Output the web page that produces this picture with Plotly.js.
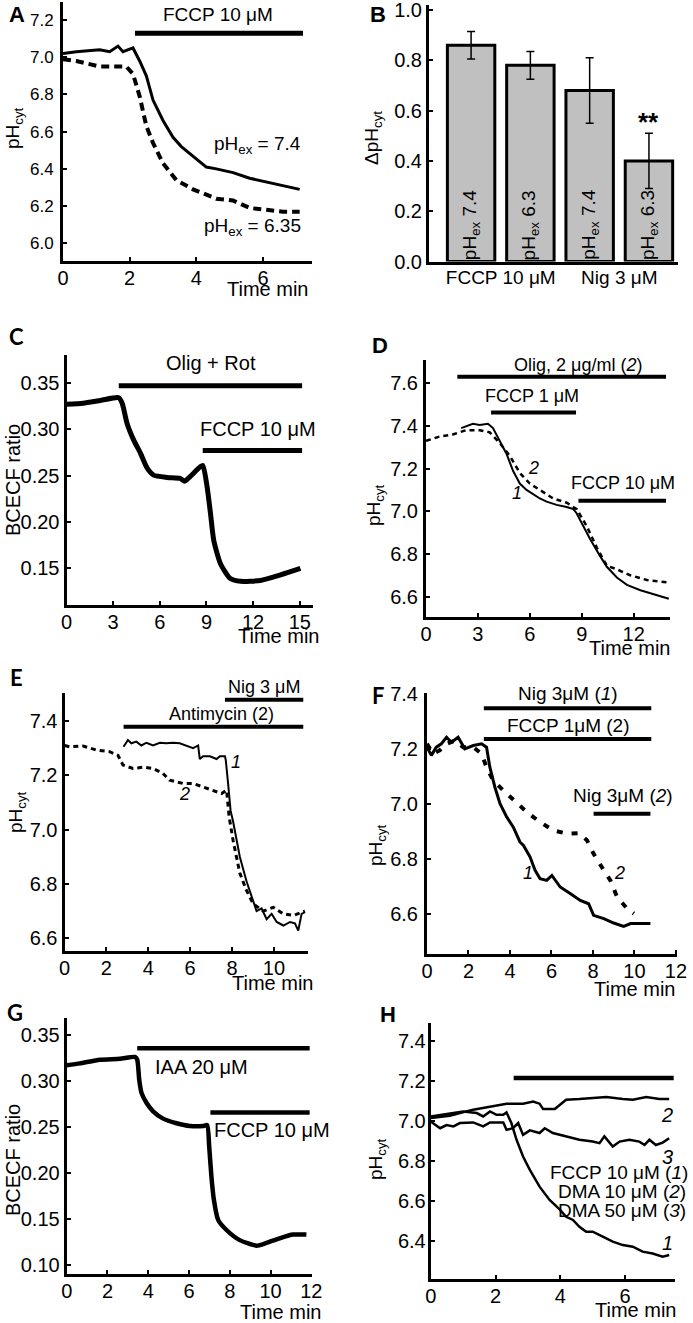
<!DOCTYPE html>
<html><head><meta charset="utf-8">
<script src="https://cdn.plot.ly/plotly-3.0.1.min.js"></script>
<style>html,body{margin:0;padding:0;background:#fff}#chart{width:693px;height:1323px}</style>
</head><body><div id="chart"></div>
<script>
// ---------- Panel A : FCCP 10 uM, pHex 7.4 vs 6.35 ----------
const aTime74 = [0,0.4,1.1,1.4,1.65,1.8,2.1,2.3,2.5,2.7,3.0,3.3,3.55,3.9,4.3,4.6,5.1,5.6,6.1,6.6,7.1];
const aPh74   = [7.02,7.03,7.04,7.03,7.06,7.03,7.05,6.98,6.90,6.77,6.66,6.57,6.52,6.47,6.41,6.40,6.38,6.35,6.33,6.31,6.29];
const aTime635 = [0,0.4,1.1,1.9,2.1,2.3,2.5,2.7,3.0,3.4,3.9,4.6,5.1,5.6,6.1,6.6,7.1];
const aPh635   = [6.99,6.98,6.95,6.95,6.91,6.79,6.63,6.54,6.43,6.34,6.29,6.24,6.23,6.19,6.18,6.17,6.17];
const aTreatStart = [2.16], aTreatEnd = [7.2], aTreatLabel = ['FCCP 10 μM'];

// ---------- Panel B : delta pH bars ----------
const bPos   = [0,1,2,3];
const bPhEx  = ['7.4','6.3','7.4','6.3'];
const bMean  = [0.86,0.78,0.68,0.40];
const bErr   = [0.055,0.055,0.13,0.11];
const bTreat = ['FCCP 10 μM','Nig 3 μM'];
const bSignif = ['','','','**'];

// ---------- Panel C : Olig + Rot, FCCP ----------
const cTime  = [0,1.07,2.19,3.36,3.58,3.9,4.33,4.76,5.19,5.6,6.47,7.3,7.6,7.95,8.6,8.77,9.04,9.26,9.47,9.9,10.54,11.2,12.47,13.76,15.04];
const cRatio = [0.327,0.328,0.331,0.334,0.328,0.306,0.288,0.274,0.258,0.2505,0.248,0.247,0.244,0.249,0.2595,0.261,0.238,0.209,0.180,0.155,0.139,0.136,0.137,0.143,0.150];
const cTreatStart = [3.36,8.76], cTreatEnd = [15.15,15.15], cTreatLabel = ['Olig + Rot','FCCP 10 μM'];

// ---------- Panel D : FCCP 1 uM then 10 uM (1), with Olig (2) ----------
const dTime1 = [2.03,2.32,2.71,3.1,3.58,3.87,4.26,4.65,5.03,5.42,5.81,6.19,6.58,6.97,7.55,8.13,8.52,8.71,9.1,9.48,10.06,10.45,11.03,11.61,12.39,13.16,14.03];
const dPh1   = [7.39,7.40,7.41,7.405,7.41,7.39,7.33,7.27,7.19,7.13,7.10,7.08,7.06,7.045,7.03,7.02,7.01,6.99,6.93,6.87,6.79,6.74,6.69,6.655,6.63,6.61,6.59];
const dTime2 = [0,0.77,1.55,2.32,3.1,3.68,4.26,4.84,5.42,6.0,6.58,7.35,8.13,8.71,9.29,9.87,10.45,11.03,11.8,12.77,14.03];
const dPh2   = [7.33,7.35,7.36,7.38,7.38,7.37,7.32,7.26,7.18,7.13,7.10,7.06,7.04,7.01,6.93,6.83,6.745,6.728,6.70,6.678,6.666];
const dTreatStart = [1.81,3.76,8.81], dTreatEnd = [13.87,8.67,13.87];
const dTreatLabel = ['Olig, 2 μg/ml (<i>2</i>)','FCCP 1 μM','FCCP 10 μM'];

// ---------- Panel E : Antimycin (2), Nig 3 uM ----------
const eTime1 = [2.82,3.03,3.19,3.43,3.67,3.91,4.23,4.55,4.86,5.18,5.50,5.82,6.14,6.38,6.46,6.62,6.94,7.26,7.42,7.66,7.70,7.81,7.93,8.05,8.21,8.37,8.69,9.01,9.17,9.41,9.65,9.89,10.13,10.45,10.77,11.0,11.16,11.32,11.48];
const ePh1   = [7.305,7.33,7.318,7.324,7.31,7.32,7.31,7.32,7.318,7.32,7.318,7.31,7.30,7.31,7.26,7.27,7.27,7.26,7.27,7.27,7.256,7.17,7.07,7.03,6.96,6.90,6.81,6.74,6.70,6.71,6.67,6.69,6.66,6.647,6.66,6.655,6.628,6.69,6.696];
const eTime2 = [0,0.24,0.88,1.52,2.15,2.55,2.79,3.27,3.75,4.23,4.70,5.02,5.66,6.14,6.62,7.10,7.50,7.74,7.86,8.05,8.21,8.37,8.69,9.01,9.49,9.97,10.45,10.93,11.48];
const ePh2   = [7.31,7.305,7.308,7.293,7.287,7.274,7.238,7.225,7.23,7.225,7.207,7.182,7.17,7.17,7.157,7.145,7.133,7.145,7.047,6.96,6.90,6.84,6.776,6.727,6.70,6.714,6.69,6.684,6.70];
const eTreatStart = [7.66,2.82], eTreatEnd = [11.40,11.40], eTreatLabel = ['Nig 3 μM','Antimycin (2)'];

// ---------- Panel F : Nig 3uM (1), FCCP 1uM then Nig (2) ----------
const fTime1 = [0,0.21,0.45,0.69,0.94,1.18,1.5,1.82,2.23,2.63,2.87,3.03,3.27,3.52,3.84,4.16,4.48,4.65,4.97,5.21,5.45,5.77,6.02,6.42,6.9,7.39,7.79,8.03,8.52,9.0,9.48,9.81,10.29,10.77];
const fPh1   = [7.206,7.176,7.206,7.218,7.242,7.224,7.242,7.2,7.212,7.218,7.206,7.133,7.061,7.0,6.952,6.915,6.861,6.848,6.806,6.758,6.727,6.721,6.739,6.697,6.673,6.648,6.636,6.594,6.582,6.566,6.554,6.564,6.564,6.564];
const fTime2 = [0,0.29,0.61,0.94,1.34,1.74,2.23,2.63,2.87,3.19,3.68,4.16,4.81,5.45,6.1,6.74,7.31,7.71,8.03,8.52,8.84,9.16,9.65,9.97];
const fPh2   = [7.218,7.182,7.194,7.218,7.23,7.206,7.206,7.182,7.133,7.085,7.048,7.015,6.97,6.933,6.903,6.891,6.893,6.867,6.818,6.758,6.721,6.661,6.618,6.6];
const fTreatStart = [2.74,2.74,8.03], fTreatEnd = [10.81,10.81,10.77];
const fTreatLabel = ['Nig 3μM (<i>1</i>)','FCCP 1μM (2)','Nig 3μM (<i>2</i>)'];

// ---------- Panel G : IAA 20 uM, FCCP ----------
const gTime  = [0,0.65,1.63,2.61,3.35,3.46,3.56,3.67,3.92,4.24,4.73,5.39,6.04,6.69,6.89,6.99,7.1,7.22,7.43,7.84,8.49,9.31,9.8,10.45,11.1,11.76];
const gRatio = [0.317,0.319,0.323,0.324,0.326,0.323,0.301,0.287,0.276,0.267,0.259,0.254,0.251,0.251,0.252,0.229,0.196,0.171,0.149,0.138,0.127,0.121,0.124,0.129,0.133,0.133];
const gTreatStart = [3.46,7.05], gTreatEnd = [11.92,11.92], gTreatLabel = ['IAA 20 μM','FCCP 10 μM'];

// ---------- Panel H : FCCP (1), DMA 10 (2), DMA 50 (3) ----------
const hTime1 = [0,0.49,1.0,1.42,1.62,1.83,2.03,2.24,2.34,2.49,2.65,2.85,3.06,3.36,3.67,3.98,4.18,4.39,4.59,4.8,5.0,5.31,5.62,5.93,6.24,6.54,6.85,7.16,7.36];
const hPh1   = [7.023,7.036,7.048,7.04,7.023,7.048,7.031,7.031,7.043,6.99,6.906,6.822,6.755,6.671,6.604,6.557,6.52,6.504,6.47,6.445,6.445,6.42,6.395,6.378,6.37,6.345,6.336,6.32,6.328];
const hTime2 = [0,0.59,1.31,1.83,2.34,2.85,3.16,3.36,3.47,3.83,4.18,4.59,5.0,5.42,5.93,6.24,6.65,7.06,7.36];
const hPh2   = [7.015,7.027,7.057,7.073,7.087,7.087,7.098,7.087,7.06,7.06,7.107,7.11,7.115,7.12,7.11,7.107,7.12,7.11,7.11];
const hTime3 = [0,0.29,0.49,0.7,0.9,1.31,1.62,1.83,2.24,2.34,2.54,2.7,2.85,3.06,3.36,3.52,3.77,4.18,4.59,5.0,5.21,5.36,5.62,5.83,6.13,6.44,6.6,6.75,6.95,7.16,7.36];
const hPh3   = [6.998,6.964,6.98,6.973,6.99,6.993,6.973,6.993,6.993,6.956,6.964,6.99,6.931,6.953,6.94,6.964,6.94,6.923,6.906,6.897,6.889,6.923,6.872,6.897,6.906,6.897,6.88,6.906,6.88,6.892,6.914];
const hTreatStart = [2.56], hTreatEnd = [7.5];
const hTreatLabel = ['FCCP 10 μM (<i>1</i>)','DMA 10 μM (<i>2</i>)','DMA 50 μM (<i>3</i>)'];

// ================= drawing =================
const W = 693, H = 1323;
const FONT = 'Liberation Sans';
const px = v => v / W, py = v => 1 - v / H;
function range(a, b, s) { const r = []; for (let v = a; v <= b + 1e-9; v += s) r.push(+v.toFixed(4)); return r; }

// axis boxes in pixels
const AX = [
  {k:'',  x:[63,312],    y:[2,261],       xr:[0,7.47],    yr:[5.905,7.297], xt:[0,2,4,6],        yt:range(6.0,7.2,0.2), yf:'.1f', ys:3, yfs:17},
  {k:'2', x:[429,678],   y:[5,261.5],     xr:[-0.71,3.49],yr:[0,1.02],      xt:[0.5,2.5],        yt:range(0,1,0.2),     yf:'.1f', ys:0, yfs:20},
  {k:'3', x:[66.5,313],  y:[355,605],     xr:[0,15.85],   yr:[0.1105,0.38], xt:range(0,15,3),    yt:range(0.15,0.35,0.05), yf:'.2f', ys:0, yfs:20},
  {k:'4', x:[426,670],   y:[360,616.5],   xr:[0,14.1],    yr:[6.507,7.709], xt:range(0,12,3),    yt:range(6.6,7.6,0.2), yf:'.1f', ys:1, yfs:20},
  {k:'5', x:[64.5,308.3],y:[693.3,950.5], xr:[0,11.64],   yr:[6.555,7.502], xt:range(0,10,2),    yt:range(6.6,7.4,0.2), yf:'.1f', ys:0, yfs:20},
  {k:'6', x:[427,677],   y:[693.3,953.5], xr:[0,12.05],   yr:[6.455,7.402], xt:range(0,12,2),    yt:range(6.6,7.4,0.2), yf:'.1f', ys:2, yfs:20},
  {k:'7', x:[66.7,311.7],y:[1018.3,1274], xr:[0,12.02],   yr:[0.0902,0.368],xt:range(0,12,2),    yt:range(0.10,0.35,0.05), yf:'.2f', ys:0, yfs:20},
  {k:'8', x:[430.7,675], y:[1023.3,1279], xr:[0,7.54],    yr:[6.208,7.49],  xt:[0,2,4,6],        yt:range(6.4,7.4,0.2), yf:'.1f', ys:-2, yfs:20}
];

const layout = {
  width: W, height: H, margin: {l:0, r:0, t:0, b:0},
  paper_bgcolor: '#fff', plot_bgcolor: 'rgba(0,0,0,0)',
  showlegend: false, font: {family: FONT, color: '#000'},
  shapes: [], annotations: []
};

AX.forEach(a => {
  const common = {
    showline: true, linecolor: '#000', linewidth: 3, showgrid: false, zeroline: false,
    ticks: 'inside', ticklen: 4, tickwidth: 2, tickcolor: '#000', ticklabeloverflow: 'allow',
    fixedrange: true
  };
  layout['xaxis' + a.k] = Object.assign({}, common, {
    domain: [px(a.x[0]), px(a.x[1])], range: a.xr, tickmode: 'array', tickvals: a.xt,
    anchor: 'y' + a.k, ticklabelstandoff: -3, tickfont: {family: FONT, size: 20, color: '#000'}
  });
  layout['yaxis' + a.k] = Object.assign({}, common, {
    domain: [py(a.y[1]), py(a.y[0])], range: a.yr, tickmode: 'array', tickvals: a.yt,
    tickformat: a.yf, anchor: 'x' + a.k, ticklabelstandoff: a.ys,
    tickfont: {family: FONT, size: a.yfs, color: '#000'}
  });
});
// panel B x axis: treatment labels, no tick marks
layout.xaxis2.ticktext = bTreat;
layout.xaxis2.ticks = '';
layout.xaxis2.tickfont = {family: FONT, size: 19, color: '#000'};

const traces = [];
function line(k, x, y, width, dash, shape) {
  traces.push({type:'scatter', mode:'lines', x:x, y:y, xaxis:'x'+k, yaxis:'y'+k,
    line:{color:'#000', width:width, dash:dash||'solid', shape:shape||'linear', smoothing:0.6},
    hoverinfo:'skip', showlegend:false});
}
function bars(k, starts, ends, levels, width) {
  starts.forEach((s, i) => layout.shapes.push({type:'line', xref:'x'+k, yref:'y'+k,
    x0:s, x1:ends[i], y0:levels[i], y1:levels[i], line:{color:'#000', width:width||5}}));
}
function txt(x, y, text, size, xanchor, extra) {
  layout.annotations.push(Object.assign({xref:'paper', yref:'paper', x:px(x), y:py(y), text:text,
    showarrow:false, xanchor:xanchor||'center', yanchor:'middle',
    font:{family:FONT, size:size, color:'#000'}}, extra||{}));
}
function ytitle(x, y, text, size) { txt(x, y, text, size, 'center', {textangle:-90}); }
function letter(x, y, t, fam) { txt(x, y, '<b>'+t+'</b>', 22, 'center', {font:{family:fam||FONT, size:22, color:'#000'}}); }

// A
line('', aTime74, aPh74, 3);
line('', aTime635, aPh635, 4, '8px,5px');
bars('', aTreatStart, aTreatEnd, [7.129], 5);
txt(218, 14, aTreatLabel[0], 19);
txt(303, 145, 'pH<sub>ex</sub> = 7.4', 19, 'right');
txt(303, 227, 'pH<sub>ex</sub> = 6.35', 19, 'right');
txt(310, 289, 'Time min', 20, 'right');
ytitle(14, 128, 'pH<sub>cyt</sub>', 19);
letter(17, 14, 'A');

// B
traces.push({type:'bar', x:bPos, y:bMean, xaxis:'x2', yaxis:'y2', width:0.8,
  marker:{color:'#c0c0c0', line:{color:'#000', width:3}},
  error_y:{type:'data', array:bErr, visible:true, color:'#000', thickness:1.5, width:4},
  hoverinfo:'skip', showlegend:false});
bPos.forEach((p, i) => {
  layout.annotations.push({xref:'x2', yref:'y2', x:p, y:0.145, text:'pH<sub>ex</sub> '+bPhEx[i],
    textangle:-90, showarrow:false, xanchor:'center', yanchor:'middle',
    font:{family:FONT, size:19, color:'#000'}});
  if (bSignif[i]) layout.annotations.push({xref:'x2', yref:'y2', x:p, y:0.555, text:'<b>'+bSignif[i]+'</b>',
    showarrow:false, xanchor:'center', yanchor:'middle', font:{family:FONT, size:26, color:'#000'}});
});
ytitle(373, 138, 'ΔpH<sub>cyt</sub>', 19);
letter(378, 14, 'B');

// C
line('3', cTime, cRatio, 5, 'solid', 'spline');
bars('3', cTreatStart, cTreatEnd, [0.3468, 0.277], 5);
txt(211, 363, cTreatLabel[0], 20);
txt(258, 429, cTreatLabel[1], 20);
txt(321, 636, 'Time min', 20, 'right');
ytitle(13, 480, 'BCECF ratio', 20);
letter(16, 337, 'C', 'Lato');

// D
line('4', dTime2, dPh2, 2.5, '5px,4px');
line('4', dTime1, dPh1, 2);
bars('4', dTreatStart, dTreatEnd, [7.631, 7.4625, 7.05], 4);
txt(578, 365, dTreatLabel[0], 18);
txt(532, 396, dTreatLabel[1], 18);
txt(623, 483, dTreatLabel[2], 18);
txt(533, 468, '<i>2</i>', 18);
txt(517, 493, '<i>1</i>', 18);
txt(672, 648, 'Time min', 20, 'right');
ytitle(375, 505, 'pH<sub>cyt</sub>', 19);
letter(380, 345, 'D');

// E
line('5', eTime2, ePh2, 3, '5px,4px');
line('5', eTime1, ePh1, 2);
bars('5', eTreatStart, eTreatEnd, [7.478, 7.379], 4);
txt(264, 687, eTreatLabel[0], 18);
txt(222, 714, eTreatLabel[1], 18);
txt(236, 762, '<i>1</i>', 18);
txt(184, 794, '<i>2</i>', 18);
txt(315, 983, 'Time min', 20, 'right');
ytitle(17, 812, 'pH<sub>cyt</sub>', 19);
letter(16, 677, 'E', 'Lato');

// F
line('6', fTime2, fPh2, 4, '6px,9px');
line('6', fTime1, fPh1, 3);
bars('6', fTreatStart, fTreatEnd, [7.348, 7.236, 6.964], 4);
txt(568, 693, fTreatLabel[0], 19);
txt(568, 725, fTreatLabel[1], 19);
txt(623, 795, fTreatLabel[2], 19);
txt(528, 873, '<i>1</i>', 18);
txt(619, 873, '<i>2</i>', 18);
txt(677, 989, 'Time min', 20, 'right');
ytitle(377, 845, 'pH<sub>cyt</sub>', 19);
letter(378, 695, 'F', 'Lato');

// G
line('7', gTime, gRatio, 4.5, 'solid', 'spline');
bars('7', gTreatStart, gTreatEnd, [0.3355, 0.2656], 4.5);
txt(202, 1067, gTreatLabel[0], 20);
txt(272, 1130, gTreatLabel[1], 20);
txt(323, 1312, 'Time min', 20, 'right');
ytitle(13, 1160, 'BCECF ratio', 20);
letter(15, 1012, 'G', 'Lato');

// H
line('8', hTime2, hPh2, 2.5);
line('8', hTime3, hPh3, 2.5);
line('8', hTime1, hPh1, 2.5);
bars('8', hTreatStart, hTreatEnd, [7.216], 4.5);
txt(667, 1115, '<i>2</i>', 20);
txt(667, 1157, '<i>3</i>', 20);
txt(667, 1243, '<i>1</i>', 20);
txt(690, 1172, hTreatLabel[0], 19, 'right');
txt(688, 1191, hTreatLabel[1], 19, 'right');
txt(688, 1210, hTreatLabel[2], 19, 'right');
txt(678, 1310, 'Time min', 20, 'right');
ytitle(377, 1159, 'pH<sub>cyt</sub>', 19);
letter(388, 1014, 'H');

Plotly.newPlot('chart', traces, layout, {staticPlot:true, displayModeBar:false});
</script></body></html>
